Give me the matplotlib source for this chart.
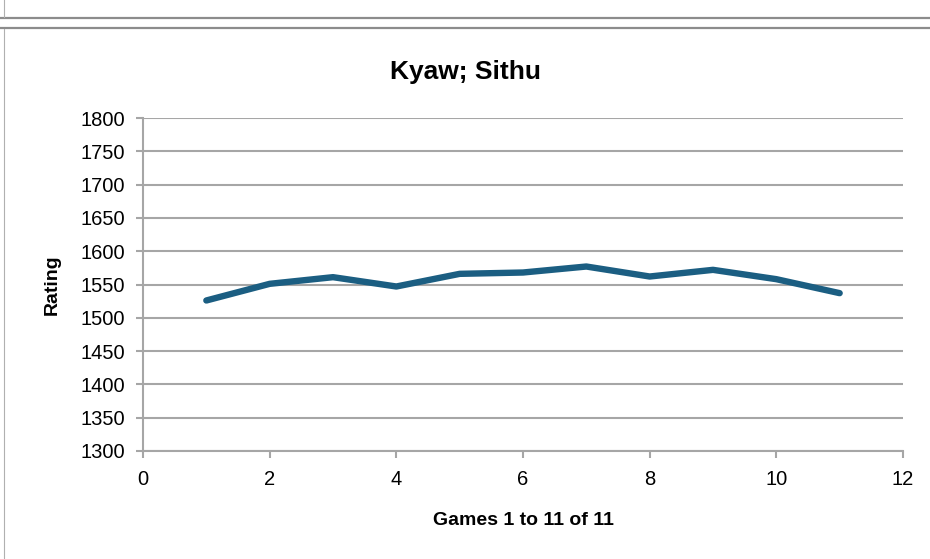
import matplotlib
matplotlib.use("Agg")
import matplotlib.pyplot as plt
from matplotlib.lines import Line2D

# data
games = [1, 2, 3, 4, 5, 6, 7, 8, 9, 10, 11]
rating = [1526, 1551, 1561, 1547, 1566, 1568, 1577, 1562, 1572, 1558, 1537]
title = "Kyaw; Sithu"
xlabel = "Games 1 to 11 of 11"
ylabel = "Rating"

plt.rcParams['font.family'] = ['Liberation Sans', 'DejaVu Sans']

W, H = 930, 559
fig = plt.figure(figsize=(W / 100, H / 100), dpi=100)

# frame lines of the sheet around the chart
grey = "#8c8c8c"
fig.add_artist(Line2D([0, 1], [1 - 17.5 / H, 1 - 17.5 / H], color=grey, lw=1.6))
fig.add_artist(Line2D([0, 1], [1 - 28 / H, 1 - 28 / H], color=grey, lw=1.6))
fig.add_artist(Line2D([4 / W, 4 / W], [1 - 17 / H, 1], color="#b0b0b0", lw=0.8))
fig.add_artist(Line2D([4 / W, 4 / W], [0, 1 - 29 / H], color="#b0b0b0", lw=0.8))

ax = fig.add_axes([143 / W, 1 - 451 / H, (903 - 143) / W, (451 - 118) / H])
ax.plot(games, rating, color="#1b5e82", lw=4.6, solid_capstyle="round", solid_joinstyle="round")

ax.set_xlim(0, 12)
ax.set_ylim(1300, 1800)
ax.set_xticks(range(0, 13, 2))
ax.set_yticks(range(1300, 1801, 50))
ax.grid(axis="y", color="#a6a6a6", lw=1.5)
ax.set_axisbelow(True)
for s in ["top", "right"]:
    ax.spines[s].set_visible(False)
for s in ["left", "bottom"]:
    ax.spines[s].set_color("#a6a6a6")
    ax.spines[s].set_linewidth(1.5)
ax.tick_params(length=5, width=1.5, color="#a6a6a6", direction="out", labelsize=14.5)
ax.tick_params(axis="x", pad=9)
ax.tick_params(axis="y", pad=8)

fig.text(0.5, 1 - 72 / H, title, fontsize=19, fontweight="bold", ha="center", va="center")
ax.set_xlabel(xlabel, fontsize=14, fontweight="bold", labelpad=16)
ax.set_ylabel(ylabel, fontsize=14, fontweight="bold", labelpad=14)

fig.savefig("out.png", dpi=100, facecolor="white")
